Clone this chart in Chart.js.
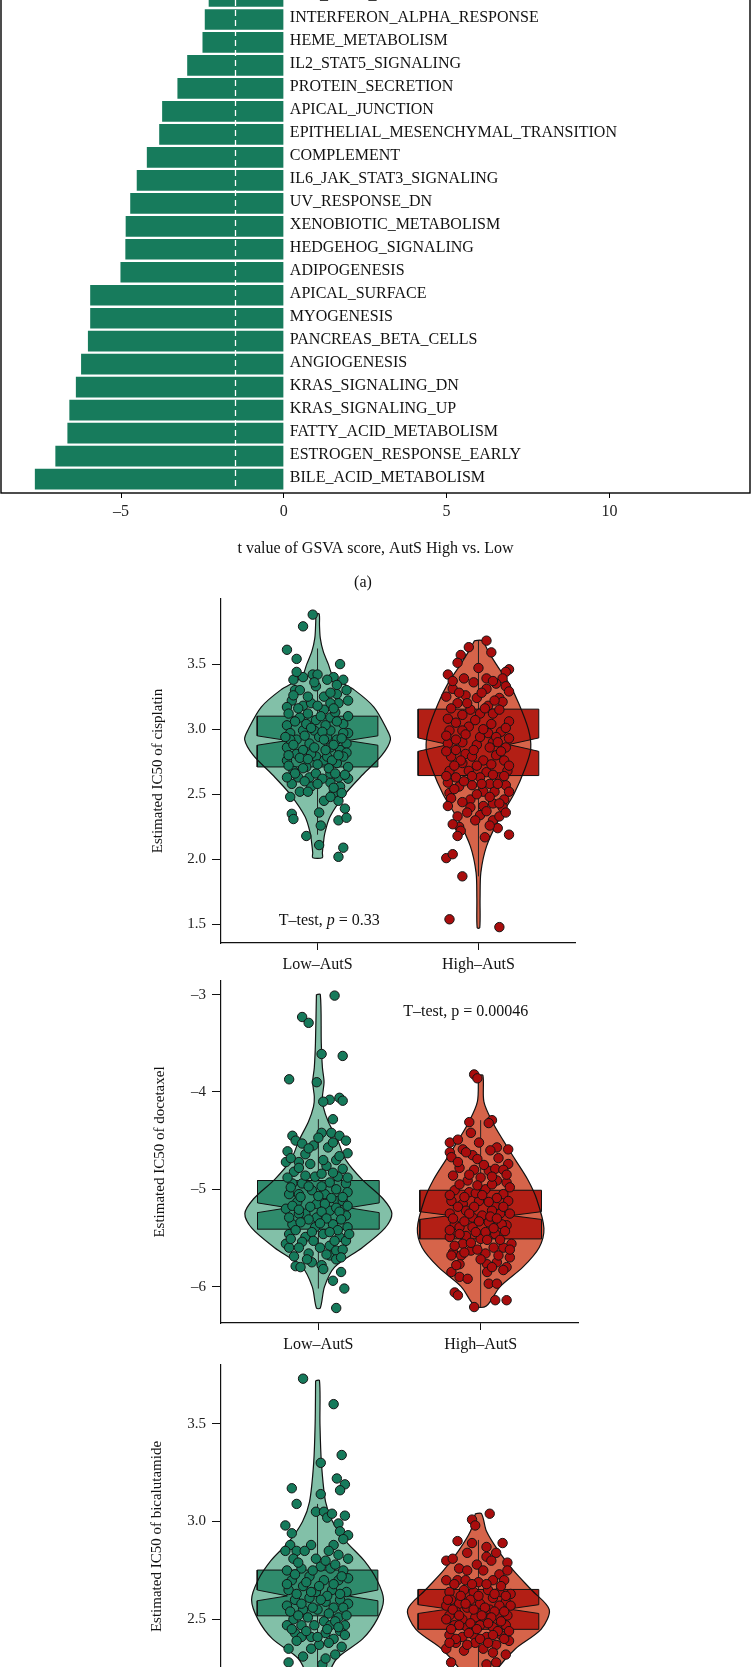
<!DOCTYPE html>
<html>
<head>
<meta charset="utf-8">
<script src="https://cdn.jsdelivr.net/npm/chart.js@4.4.1/dist/chart.umd.min.js"></script>
<style>
  html, body { margin: 0; padding: 0; background: #fff; width: 752px; height: 1667px; overflow: hidden; position: relative; }
  canvas { position: absolute; left: 0; }
  .fig-label { position: absolute; left: 0; width: 726px; text-align: center; font: 16px "Liberation Serif", serif; color: #111; }
</style>
</head>
<body>
<canvas id="gsva" width="752" height="620" style="top:-30px"></canvas>
<div class="fig-label" style="top:573px">(a)</div>
<canvas id="cisplatin"></canvas>
<canvas id="docetaxel"></canvas>
<canvas id="bicalutamide"></canvas>
<script>
// ---------- (a) GSVA t values ----------
const pathwayLabels = [
  'TGF_BETA_SIGNALING', 'INTERFERON_ALPHA_RESPONSE', 'HEME_METABOLISM', 'IL2_STAT5_SIGNALING',
  'PROTEIN_SECRETION', 'APICAL_JUNCTION', 'EPITHELIAL_MESENCHYMAL_TRANSITION', 'COMPLEMENT',
  'IL6_JAK_STAT3_SIGNALING', 'UV_RESPONSE_DN', 'XENOBIOTIC_METABOLISM', 'HEDGEHOG_SIGNALING',
  'ADIPOGENESIS', 'APICAL_SURFACE', 'MYOGENESIS', 'PANCREAS_BETA_CELLS', 'ANGIOGENESIS',
  'KRAS_SIGNALING_DN', 'KRAS_SIGNALING_UP', 'FATTY_ACID_METABOLISM', 'ESTROGEN_RESPONSE_EARLY',
  'BILE_ACID_METABOLISM'
];
const pathwayT = [-2.31, -2.43, -2.50, -2.97, -3.27, -3.74, -3.83, -4.21, -4.52, -4.72, -4.86,
  -4.87, -5.02, -5.95, -5.95, -6.02, -6.23, -6.39, -6.59, -6.65, -7.02, -7.65];
const tTicks = [-5, 0, 5, 10];
const tCutoff = -1.5;

// ---------- drug IC50 panels ----------
const groupLabels = ['Low\u2013AutS', 'High\u2013AutS'];

// box stats: [whisker low, q1, notch low, median, notch high, q3, whisker high]
const boxCisplatin = [[2.19, 2.71, 2.877, 2.913, 2.949, 3.10, 3.62], [1.87, 2.644, 2.83, 2.882, 2.933, 3.154, 3.68]];
const boxDocetaxel = [[-6.02, -5.41, -5.24, -5.19, -5.14, -4.91, -4.28], [-6.21, -5.51, -5.31, -5.27, -5.23, -5.01, -4.29]];
const boxBicalutamide = [[2.18, 2.518, 2.595, 2.62, 2.65, 2.752, 3.09], [2.14, 2.449, 2.53, 2.553, 2.575, 2.653, 2.906]];

// violin density: [y, half width]
const violinCisplatinLow = [[3.885,0.01],[3.8,0.012],[3.7,0.017],[3.6,0.035],[3.5,0.067],[3.4,0.10],[3.3,0.23],[3.17,0.35],[3.0,0.43],[2.92,0.453],[2.8,0.40],[2.65,0.28],[2.5,0.17],[2.33,0.078],[2.2,0.045],[2.12,0.036],[2.05,0.03],[2.013,0.03]];
const violinCisplatinHigh = [[3.68,0.024],[3.6,0.06],[3.5,0.11],[3.35,0.19],[3.2,0.25],[3.0,0.31],[2.85,0.325],[2.7,0.29],[2.5,0.22],[2.3,0.124],[2.1,0.05],[1.9,0.015],[1.7,0.01],[1.475,0.008]];
const violinDocetaxelLow = [[-3.0,0.012],[-3.5,0.018],[-3.75,0.025],[-3.9,0.035],[-4.05,0.025],[-4.15,0.03],[-4.3,0.06],[-4.5,0.12],[-4.7,0.17],[-4.9,0.27],[-5.1,0.40],[-5.25,0.453],[-5.4,0.41],[-5.6,0.27],[-5.8,0.10],[-6.0,0.038],[-6.22,0.012]];
const violinDocetaxelHigh = [[-3.83,0.014],[-4.1,0.02],[-4.3,0.07],[-4.5,0.14],[-4.7,0.215],[-4.9,0.29],[-5.1,0.345],[-5.4,0.39],[-5.6,0.36],[-5.8,0.26],[-6.0,0.12],[-6.2,0.035]];
const violinBicalutamideLow = [[3.72,0.012],[3.5,0.015],[3.3,0.024],[3.1,0.05],[3.0,0.093],[2.9,0.175],[2.8,0.29],[2.7,0.37],[2.6,0.41],[2.5,0.37],[2.4,0.28],[2.3,0.12],[2.2,0.06],[2.1,0.03],[2.05,0.01]];
const violinBicalutamideHigh = [[3.04,0.019],[2.95,0.05],[2.85,0.124],[2.75,0.217],[2.65,0.33],[2.55,0.44],[2.45,0.39],[2.35,0.23],[2.25,0.12],[2.15,0.05],[2.08,0.01]];

// samples: [jitter offset, IC50]
const ptsCisplatinLow = [[-0.03,3.88],[-0.09,3.79],[-0.19,3.61],[-0.13,3.54],[0.14,3.50],[-0.15,3.38],[-0.03,3.42],[0.00,3.42],[0.10,3.40],[0.16,3.38],[0.18,3.30],[-0.14,3.30],[-0.16,3.22],[-0.19,3.17],[-0.09,3.18],[0.04,3.25],[0.13,3.20],[-0.11,3.09],[-0.19,3.03],[-0.17,2.97],[-0.09,2.99],[-0.01,3.07],[0.08,3.09],[0.16,3.04],[0.19,2.97],[-0.19,2.86],[-0.13,2.81],[-0.05,2.89],[0.08,2.86],[0.18,2.89],[-0.19,2.76],[-0.15,2.68],[-0.07,2.71],[0.04,2.76],[0.12,2.74],[0.19,2.71],[-0.16,2.58],[-0.11,2.52],[-0.04,2.56],[0.08,2.59],[0.14,2.56],[0.19,2.62],[-0.17,2.48],[0.04,2.45],[0.13,2.45],[0.17,2.39],[-0.16,2.35],[-0.15,2.31],[0.01,2.36],[0.13,2.30],[0.18,2.32],[-0.07,2.18],[0.02,2.26],[0.01,2.11],[0.16,2.09],[0.13,2.02],[0.10,2.51],[-0.02,2.99],[0.06,2.94],[-0.09,2.84],[-0.01,2.79],[0.08,2.99],[-0.13,2.92],[-0.05,2.63],[-0.01,2.66],[0.08,2.66],[0.14,2.84],[-0.12,2.63],[-0.09,3.40],[0.16,2.97],[0.08,2.48],[-0.11,3.30],[-0.01,3.33],[0.12,3.27],[-0.07,3.04],[0.01,2.94],[0.12,2.92],[-0.04,2.81],[0.06,2.79],[0.13,2.63],[-0.17,2.92],[0.04,3.15],[-0.04,3.20],[0.08,3.20],
  [-0.18,3.12],[-0.06,3.12],[0.02,3.10],[0.11,3.13],[0.19,3.10],[-0.14,3.06],[-0.04,3.01],[0.05,3.03],[0.12,3.06],[-0.20,2.94],[-0.08,2.95],[0.03,2.98],[0.15,2.93],[-0.15,2.88],[-0.02,2.86],[0.10,2.88],[0.18,2.82],[-0.11,2.78],[0.00,2.73],[0.09,2.76],[0.16,2.79],[-0.18,2.72],[-0.09,2.70],[0.07,2.70],[-0.14,2.66],[0.03,2.62],[0.11,2.66],[0.17,2.65],[-0.08,2.60],[0.00,2.58],[0.10,2.55],[-0.19,2.63],[-0.06,2.52],[0.15,2.51],[-0.12,3.16],[0.00,3.18],[0.10,3.16],[-0.06,3.25],[0.08,3.28],[-0.15,3.26],[0.19,3.22],[-0.02,3.36],[0.06,3.38],[-0.13,3.44],[0.12,3.34],[0.05,2.84],[-0.06,2.77],[0.13,2.80],[-0.18,2.80],[0.04,2.92]];
const ptsCisplatinHigh = [[0.05,3.68],[0.08,3.59],[-0.06,3.63],[-0.11,3.57],[-0.13,3.51],[0.00,3.47],[0.19,3.46],[0.17,3.44],[-0.19,3.42],[-0.09,3.39],[0.05,3.39],[0.15,3.39],[0.17,3.33],[-0.16,3.31],[0.05,3.31],[0.11,3.35],[-0.20,3.25],[-0.08,3.26],[-0.01,3.24],[0.13,3.24],[-0.13,3.20],[0.06,3.18],[0.15,3.21],[-0.19,3.08],[-0.10,3.11],[0.01,3.12],[0.09,3.12],[0.19,3.06],[-0.18,2.99],[-0.06,3.02],[0.06,2.97],[0.14,2.98],[-0.19,2.89],[-0.10,2.90],[-0.01,2.88],[0.09,2.90],[0.17,2.86],[-0.17,2.79],[-0.08,2.81],[0.03,2.76],[0.11,2.80],[0.16,2.76],[-0.18,2.68],[-0.06,2.68],[0.05,2.67],[0.18,2.68],[-0.19,2.59],[-0.12,2.56],[-0.04,2.57],[0.07,2.58],[0.17,2.57],[-0.18,2.51],[0.03,2.52],[0.10,2.52],[-0.17,2.47],[-0.05,2.46],[0.09,2.43],[0.16,2.46],[-0.05,2.40],[0.03,2.41],[0.15,2.40],[-0.13,2.33],[0.01,2.34],[0.09,2.30],[0.13,2.33],[-0.12,2.25],[-0.11,2.22],[-0.13,2.18],[0.04,2.17],[0.12,2.24],[0.19,2.19],[-0.20,2.01],[-0.16,2.04],[-0.10,1.87],[-0.18,1.54],[0.13,1.48],[-0.10,2.99],[0.01,2.94],[0.11,2.94],[-0.14,2.84],[-0.04,2.79],[0.07,2.86],[-0.10,2.74],[0.13,2.63],[0.01,2.63],[-0.14,2.63],
  [-0.16,3.37],[-0.03,3.36],[0.09,3.37],[-0.12,3.28],[0.02,3.28],[0.19,3.29],[-0.17,3.16],[-0.05,3.15],[0.04,3.16],[0.13,3.15],[-0.14,3.05],[-0.02,3.07],[0.08,3.04],[0.17,3.01],[-0.20,2.95],[-0.08,2.96],[0.03,3.00],[0.12,2.90],[0.19,2.93],[-0.14,2.92],[-0.03,2.84],[0.14,2.83],[-0.20,2.83],[-0.11,2.76],[-0.01,2.72],[0.08,2.73],[0.19,2.72],[-0.15,2.72],[-0.04,2.64],[0.09,2.65],[0.16,2.64],[-0.20,2.64],[-0.09,2.60],[0.02,2.58],[0.12,2.58],[-0.15,2.54],[-0.01,2.50],[0.07,2.48],[0.19,2.52],[-0.10,2.44],[0.13,2.43],[-0.19,2.41],[0.05,2.37],[-0.07,2.36],[0.17,2.36],[-0.02,2.30],[0.07,2.26],[-0.16,2.27],[0.10,3.22],[-0.07,3.20]];
const ptsDocetaxelLow = [[0.10,-3.01],[-0.10,-3.23],[-0.06,-3.29],[0.02,-3.61],[0.15,-3.63],[-0.18,-3.87],[-0.01,-3.90],[0.07,-4.08],[0.03,-4.10],[0.13,-4.06],[0.15,-4.09],[0.09,-4.28],[0.02,-4.42],[0.08,-4.42],[-0.16,-4.45],[0.13,-4.45],[0.17,-4.50],[-0.14,-4.50],[-0.10,-4.53],[-0.03,-4.55],[0.06,-4.57],[-0.19,-4.61],[0.18,-4.63],[-0.20,-4.72],[-0.08,-4.64],[-0.12,-4.72],[0.05,-4.76],[0.15,-4.79],[-0.15,-4.82],[-0.02,-4.87],[0.12,-4.87],[-0.16,-4.94],[-0.10,-4.94],[0.07,-4.93],[0.17,-4.94],[-0.18,-5.05],[-0.04,-5.01],[0.04,-5.05],[0.18,-5.03],[-0.13,-5.13],[-0.01,-5.15],[0.12,-5.12],[-0.20,-5.20],[-0.08,-5.25],[0.07,-5.22],[0.17,-5.27],[-0.16,-5.36],[-0.02,-5.39],[0.09,-5.36],[0.18,-5.39],[-0.18,-5.46],[-0.08,-5.49],[0.03,-5.46],[0.13,-5.49],[-0.20,-5.56],[-0.10,-5.54],[0.07,-5.58],[0.17,-5.53],[-0.18,-5.60],[-0.15,-5.69],[-0.06,-5.66],[0.07,-5.68],[0.11,-5.63],[-0.14,-5.79],[-0.11,-5.80],[-0.04,-5.75],[0.02,-5.78],[0.03,-5.82],[0.11,-5.72],[0.14,-5.85],[0.09,-5.94],[0.16,-6.02],[0.11,-6.22],[-0.12,-5.05],[0.11,-5.19],[-0.01,-5.29],[-0.12,-5.25],[0.15,-5.12],[0.02,-4.84],[-0.05,-4.74],[0.11,-4.70],
  [-0.17,-4.98],[-0.06,-4.97],[0.02,-4.97],[0.11,-5.00],[-0.11,-5.08],[0.00,-5.07],[0.08,-5.09],[0.15,-5.08],[-0.16,-5.17],[-0.05,-5.18],[0.04,-5.15],[0.18,-5.17],[-0.12,-5.21],[0.02,-5.23],[0.13,-5.23],[-0.18,-5.29],[-0.06,-5.31],[0.05,-5.30],[0.14,-5.31],[-0.11,-5.34],[0.01,-5.35],[0.12,-5.42],[-0.14,-5.42],[-0.04,-5.44],[0.07,-5.44],[0.19,-5.46],[-0.17,-5.51],[-0.03,-5.53],[0.10,-5.53],[-0.12,-5.60],[0.01,-5.60],[0.15,-5.62],[-0.08,-4.86],[0.09,-4.83],[-0.19,-4.88],[0.18,-4.88],[-0.12,-4.78],[0.03,-4.70],[0.13,-4.66],[-0.06,-4.58],[0.09,-4.52],[-0.17,-4.68],[0.00,-4.47],[0.05,-5.67],[-0.07,-5.72],[0.14,-5.70]];
const ptsDocetaxelHigh = [[-0.04,-3.82],[-0.02,-3.86],[0.07,-4.29],[0.05,-4.32],[-0.07,-4.31],[-0.06,-4.42],[-0.19,-4.52],[-0.14,-4.49],[-0.01,-4.52],[0.10,-4.57],[0.17,-4.59],[-0.19,-4.62],[-0.11,-4.59],[-0.05,-4.65],[-0.02,-4.69],[-0.18,-4.67],[0.17,-4.74],[-0.13,-4.78],[-0.04,-4.80],[0.05,-4.81],[0.09,-4.79],[0.14,-4.80],[-0.17,-4.86],[-0.08,-4.91],[0.00,-4.88],[0.10,-4.91],[0.16,-4.93],[-0.16,-5.01],[-0.07,-5.03],[0.03,-5.00],[0.14,-5.05],[-0.18,-5.12],[-0.11,-5.15],[-0.01,-5.12],[0.09,-5.17],[0.17,-5.12],[-0.19,-5.25],[-0.09,-5.22],[0.01,-5.27],[0.12,-5.25],[-0.16,-5.36],[-0.05,-5.39],[0.05,-5.34],[0.16,-5.37],[-0.19,-5.49],[-0.09,-5.48],[0.00,-5.51],[0.09,-5.46],[0.19,-5.56],[-0.17,-5.65],[-0.06,-5.63],[0.03,-5.66],[0.14,-5.60],[-0.18,-5.68],[-0.12,-5.68],[0.18,-5.70],[-0.13,-5.77],[0.04,-5.77],[0.10,-5.75],[0.16,-5.80],[0.14,-5.83],[-0.18,-5.85],[-0.13,-5.90],[-0.08,-5.92],[0.04,-5.85],[0.05,-5.97],[0.10,-5.97],[-0.16,-6.06],[-0.14,-6.09],[-0.04,-6.21],[0.09,-6.14],[0.16,-6.14],[-0.03,-5.04],[0.07,-5.22],[-0.05,-5.29],[-0.13,-5.39],[0.13,-5.36],[0.03,-5.44],[-0.11,-5.56],
  [-0.13,-4.95],[-0.02,-4.96],[0.07,-4.95],[0.18,-4.98],[-0.19,-5.06],[-0.10,-5.08],[0.01,-5.06],[0.10,-5.09],[-0.14,-5.18],[-0.04,-5.18],[0.05,-5.13],[0.14,-5.18],[-0.07,-5.25],[0.06,-5.28],[0.18,-5.25],[-0.17,-5.30],[-0.01,-5.33],[0.10,-5.30],[-0.10,-5.33],[-0.19,-5.42],[-0.03,-5.44],[0.08,-5.40],[0.15,-5.43],[-0.13,-5.46],[0.04,-5.52],[0.12,-5.52],[-0.06,-5.55],[-0.16,-5.58],[0.08,-5.60],[0.18,-5.62],[-0.02,-5.62],[-0.10,-5.65],[0.11,-5.68],[-0.07,-4.85],[0.07,-4.87],[0.16,-4.85],[-0.14,-4.72],[0.02,-4.75],[0.11,-4.68],[-0.09,-4.62],[0.06,-4.60],[0.00,-5.72],[0.07,-5.80],[-0.15,-5.78]];
const ptsBicalutamideLow = [[-0.09,3.73],[0.10,3.60],[0.15,3.34],[0.02,3.30],[0.12,3.22],[0.17,3.19],[-0.16,3.17],[0.14,3.16],[0.02,3.14],[-0.13,3.09],[-0.01,3.05],[0.04,3.05],[0.06,3.02],[0.09,3.04],[0.17,3.03],[-0.20,2.98],[0.13,2.99],[-0.16,2.94],[0.14,2.95],[0.19,2.93],[-0.17,2.88],[-0.04,2.88],[0.10,2.88],[0.16,2.91],[-0.20,2.85],[-0.13,2.85],[-0.08,2.85],[0.07,2.85],[0.13,2.83],[0.19,2.81],[-0.15,2.81],[-0.01,2.81],[0.02,2.77],[-0.19,2.75],[-0.10,2.76],[0.08,2.76],[0.16,2.75],[-0.16,2.70],[-0.05,2.72],[0.04,2.70],[0.13,2.70],[0.19,2.71],[-0.18,2.65],[-0.09,2.67],[-0.01,2.64],[0.09,2.65],[0.18,2.64],[-0.14,2.60],[-0.05,2.61],[0.05,2.59],[0.14,2.60],[-0.19,2.57],[-0.09,2.55],[0.00,2.55],[0.10,2.56],[0.19,2.58],[-0.15,2.50],[-0.06,2.51],[0.04,2.49],[0.13,2.51],[-0.19,2.47],[-0.10,2.47],[0.08,2.47],[0.17,2.47],[-0.14,2.43],[-0.04,2.41],[0.05,2.43],[0.14,2.44],[-0.10,2.41],[0.10,2.40],[0.01,2.37],[-0.18,2.35],[0.11,2.32],[-0.18,2.28],[0.03,2.27],[-0.09,2.18],[0.08,2.09],[-0.05,2.00],
  [-0.12,2.79],[0.05,2.80],[0.11,2.78],[-0.03,2.75],[-0.14,2.73],[0.15,2.72],[-0.07,2.69],[0.01,2.67],[0.10,2.68],[-0.19,2.68],[-0.13,2.63],[-0.04,2.64],[0.06,2.62],[0.14,2.63],[-0.10,2.58],[0.02,2.60],[0.16,2.56],[-0.17,2.54],[-0.03,2.56],[0.07,2.53],[-0.12,2.52],[0.11,2.49],[0.18,2.52],[-0.02,2.47],[-0.16,2.45],[0.06,2.45],[0.13,2.46],[-0.07,2.44],[0.00,2.41],[0.17,2.42],[-0.13,2.39],[0.07,2.38],[-0.04,2.35],[0.15,2.36],[-0.09,2.31],[0.05,2.30]];
const ptsBicalutamideHigh = [[0.07,3.04],[-0.04,3.01],[-0.02,2.98],[-0.13,2.90],[-0.04,2.89],[0.15,2.89],[-0.07,2.84],[0.05,2.87],[0.11,2.84],[0.05,2.82],[-0.20,2.80],[-0.16,2.81],[-0.01,2.78],[0.08,2.80],[0.18,2.79],[-0.12,2.76],[-0.07,2.75],[0.03,2.75],[0.13,2.73],[0.18,2.75],[-0.20,2.70],[-0.13,2.70],[-0.08,2.70],[0.00,2.69],[0.09,2.70],[0.16,2.70],[-0.18,2.64],[-0.09,2.65],[-0.03,2.64],[0.06,2.65],[0.13,2.64],[0.20,2.63],[-0.17,2.60],[-0.12,2.58],[-0.05,2.60],[0.01,2.58],[0.09,2.61],[0.17,2.59],[-0.20,2.57],[-0.14,2.54],[-0.07,2.56],[0.00,2.53],[0.07,2.55],[0.20,2.57],[-0.18,2.52],[-0.10,2.50],[-0.02,2.51],[0.04,2.50],[0.12,2.52],[0.18,2.52],[-0.15,2.47],[-0.07,2.46],[0.01,2.47],[0.09,2.46],[0.17,2.47],[-0.18,2.42],[-0.10,2.41],[-0.03,2.42],[0.05,2.41],[0.14,2.42],[-0.14,2.38],[-0.02,2.38],[0.11,2.37],[0.19,2.39],[-0.20,2.35],[-0.09,2.34],[0.03,2.35],[0.09,2.33],[0.17,2.32],[-0.17,2.28],[0.05,2.27],[0.11,2.28],[-0.07,2.19],[0.07,2.12],
  [-0.15,2.68],[-0.04,2.68],[0.05,2.68],[0.14,2.67],[-0.11,2.62],[0.00,2.62],[0.10,2.63],[0.17,2.62],[-0.19,2.60],[-0.08,2.58],[0.04,2.56],[0.13,2.57],[-0.16,2.55],[-0.03,2.55],[0.10,2.54],[0.16,2.54],[-0.12,2.52],[0.02,2.52],[0.08,2.51],[-0.20,2.50],[-0.05,2.48],[0.06,2.48],[0.14,2.49],[-0.12,2.47],[-0.01,2.45],[0.12,2.44],[-0.17,2.45],[-0.06,2.43],[0.09,2.42],[0.19,2.44],[-0.14,2.40],[0.01,2.40],[0.16,2.40],[-0.07,2.37],[0.06,2.38],[-0.18,2.38]];

const yTicksCisplatin = [1.5, 2.0, 2.5, 3.0, 3.5];
const yTicksDocetaxel = [-6, -5, -4, -3];
const yTicksBicalutamide = [2.5, 3.0, 3.5];

// ---------- shared style ----------
const SERIF = '"Liberation Serif", "DejaVu Serif", serif';
Chart.defaults.font.family = SERIF;
Chart.defaults.color = '#111';
const dash = v => String(v).replace('-', '\u2013');

const LOW = { violin: '#82c0a8', box: '#2f8b6c', point: '#167a5b' };
const HIGH = { violin: '#d6644a', box: '#b31f15', point: '#a90d0d' };
const BOX_HALF = 0.375;
const NOTCH_IN = 0.1875;

// row axis range (row 0 is cut by the top edge of the figure)
const ROW_MIN = -0.283;
const ROW_MAX = 21.606;

// ---------- chart (a) ----------
const gsvaDecor = {
  id: 'gsvaDecor',
  afterDatasetsDraw(chart) {
    const { ctx, chartArea: a, scales: { x, y } } = chart;
    ctx.save();
    const xc = Math.round(x.getPixelForValue(tCutoff)) + 0.5;
    ctx.strokeStyle = '#fff';
    ctx.lineWidth = 1.3;
    ctx.setLineDash([6, 4]);
    ctx.beginPath();
    ctx.moveTo(xc, a.top);
    ctx.lineTo(xc, a.bottom);
    ctx.stroke();
    ctx.setLineDash([]);

    ctx.fillStyle = '#111';
    ctx.font = '16px ' + SERIF;
    ctx.textBaseline = 'middle';
    const x0 = x.getPixelForValue(0) + 6;
    pathwayLabels.forEach((l, i) => ctx.fillText(l, x0, y.getPixelForValue(i) - 1.5));

    ctx.strokeStyle = '#000';
    ctx.lineWidth = 1.4;
    ctx.strokeRect(a.left, a.top, a.right - a.left, a.bottom - a.top);
    ctx.restore();
  }
};

new Chart(document.getElementById('gsva'), {
  type: 'bar',
  data: {
    datasets: [{
      data: pathwayT.map((t, i) => ({ x: t, y: i })),
      backgroundColor: '#177b5c',
      barPercentage: 0.9,
      categoryPercentage: 1
    }]
  },
  options: {
    indexAxis: 'y',
    responsive: false,
    animation: false,
    layout: { padding: { top: 20, left: 1, right: 2, bottom: 0 } },
    plugins: { legend: { display: false }, tooltip: { enabled: false } },
    scales: {
      y: {
        type: 'linear', display: false, reverse: true, offset: false, bounds: 'data',
        min: ROW_MIN, max: ROW_MAX,
        afterBuildTicks: s => { s.min = ROW_MIN; s.max = ROW_MAX; }
      },
      x: {
        type: 'linear', min: -8.69, max: 14.32,
        afterBuildTicks: s => { s.ticks = tTicks.map(v => ({ value: v })); },
        afterFit: s => { s.height = 97; },
        grid: { drawOnChartArea: false, drawTicks: true, tickLength: 5, color: '#000' },
        border: { display: false },
        ticks: { font: { size: 16 }, color: '#222', padding: 4, callback: v => dash(v) },
        title: {
          display: true, text: 't value of GSVA score, AutS High vs. Low',
          font: { size: 16 }, color: '#111', padding: { top: 0, bottom: 32 }
        }
      }
    }
  },
  plugins: [gsvaDecor]
});

// ---------- violin panels ----------
const notePlugin = {
  id: 'note',
  afterDatasetsDraw(chart, args, opts) {
    if (!opts.parts) return;
    const { ctx, scales: { x, y } } = chart;
    ctx.save();
    ctx.fillStyle = '#111';
    ctx.textBaseline = 'middle';
    const fontOf = p => (p.italic ? 'italic ' : '') + '16px ' + SERIF;
    const widths = opts.parts.map(p => { ctx.font = fontOf(p); return ctx.measureText(p.text).width; });
    let px = x.getPixelForValue(opts.x) - widths.reduce((a, b) => a + b, 0) / 2;
    const py = y.getPixelForValue(opts.y);
    opts.parts.forEach((p, i) => { ctx.font = fontOf(p); ctx.fillText(p.text, px, py); px += widths[i]; });
    ctx.restore();
  }
};

function violinShape(c, dens) {
  const left = dens.map(([y, w]) => ({ x: c - w, y }));
  const right = dens.slice().reverse().map(([y, w]) => ({ x: c + w, y }));
  const pts = left.concat(right);
  pts.push(pts[0]);
  return pts;
}

function boxShape(c, b) {
  const [, q1, nl, med, nu, q3] = b;
  return [
    { x: c - BOX_HALF, y: q3 }, { x: c - BOX_HALF, y: nu }, { x: c - NOTCH_IN, y: med },
    { x: c - BOX_HALF, y: nl }, { x: c - BOX_HALF, y: q1 }, { x: c + BOX_HALF, y: q1 },
    { x: c + BOX_HALF, y: nl }, { x: c + NOTCH_IN, y: med }, { x: c + BOX_HALF, y: nu },
    { x: c + BOX_HALF, y: q3 }, { x: c - BOX_HALF, y: q3 }
  ];
}

function groupDatasets(c, dens, box, pts, col) {
  const line = { showLine: true, pointRadius: 0, pointHoverRadius: 0 };
  return [
    { ...line, data: violinShape(c, dens), fill: 'shape', backgroundColor: col.violin, borderWidth: 0, tension: 0.3, order: 5 },
    { ...line, data: [{ x: c, y: box[0] }, { x: c, y: box[6] }], borderColor: '#222', borderWidth: 1, order: 4 },
    { ...line, data: boxShape(c, box), fill: 'shape', backgroundColor: col.box, borderColor: '#111', borderWidth: 1, tension: 0, order: 3 },
    { ...line, data: [{ x: c - NOTCH_IN, y: box[3] }, { x: c + NOTCH_IN, y: box[3] }], borderColor: '#111', borderWidth: 1, order: 3 },
    { ...line, data: violinShape(c, dens), fill: false, borderColor: '#111', borderWidth: 1.2, tension: 0.3, order: 2 },
    {
      data: pts.map(([dx, y]) => ({ x: c + dx, y })),
      pointRadius: 4.7, pointHoverRadius: 4.7, pointBackgroundColor: col.point,
      pointBorderColor: '#151515', pointBorderWidth: 1, order: 1
    }
  ];
}

function violinChart(id, area, cfg) {
  const canvas = document.getElementById(id);
  canvas.width = 752;
  canvas.height = area.bottom - area.top + 80;
  canvas.style.top = (area.top - 20) + 'px';

  new Chart(canvas, {
    type: 'scatter',
    data: { datasets: cfg.datasets },
    options: {
      responsive: false,
      animation: false,
      layout: { padding: { top: 20, left: 0, right: 752 - area.right, bottom: 10 } },
      plugins: { legend: { display: false }, tooltip: { enabled: false }, note: cfg.note || {} },
      scales: {
        x: {
          type: 'linear', min: 0.4, max: 2.6,
          afterBuildTicks: s => { s.ticks = [{ value: 1 }, { value: 2 }]; },
          afterFit: s => { s.height = 50; },
          grid: { drawOnChartArea: false, tickLength: 7, color: '#111' },
          border: { color: '#111', width: 1.2 },
          ticks: { font: { size: 16 }, color: '#111', padding: 5, callback: v => groupLabels[Math.round(v) - 1] }
        },
        y: {
          type: 'linear', min: cfg.yMin, max: cfg.yMax,
          afterBuildTicks: s => { s.ticks = cfg.yTicks.map(v => ({ value: v })); },
          afterFit: s => { s.width = area.left; },
          grid: { drawOnChartArea: false, tickLength: 9, color: '#111' },
          border: { color: '#111', width: 1.2 },
          ticks: { font: { size: 15 }, color: '#222', padding: 6, callback: cfg.yFormat },
          title: { display: true, text: cfg.title, font: { size: 15 }, color: '#111', padding: { top: cfg.titleX - 9, bottom: 0 } }
        }
      }
    },
    plugins: [notePlugin]
  });
}

violinChart('cisplatin', { top: 599, bottom: 943, left: 221, right: 575 }, {
  yMin: 1.358, yMax: 4.0, yTicks: yTicksCisplatin, yFormat: v => v.toFixed(1),
  title: 'Estimated IC50 of cisplatin', titleX: 158,
  note: { x: 1.073, y: 1.531, parts: [{ text: 'T\u2013test, ' }, { text: 'p', italic: true }, { text: ' = 0.33' }] },
  datasets: [
    ...groupDatasets(1, violinCisplatinLow, boxCisplatin[0], ptsCisplatinLow, LOW),
    ...groupDatasets(2, violinCisplatinHigh, boxCisplatin[1], ptsCisplatinHigh, HIGH)
  ]
});

violinChart('docetaxel', { top: 981, bottom: 1323, left: 221, right: 578 }, {
  yMin: -6.374, yMax: -2.86, yTicks: yTicksDocetaxel, yFormat: v => dash(v),
  title: 'Estimated IC50 of docetaxel', titleX: 160,
  note: { x: 1.908, y: -3.179, parts: [{ text: 'T\u2013test, p = 0.00046' }] },
  datasets: [
    ...groupDatasets(1, violinDocetaxelLow, boxDocetaxel[0], ptsDocetaxelLow, LOW),
    ...groupDatasets(2, violinDocetaxelHigh, boxDocetaxel[1], ptsDocetaxelHigh, HIGH)
  ]
});

violinChart('bicalutamide', { top: 1365, bottom: 1708, left: 221, right: 575 }, {
  yMin: 2.047, yMax: 3.80, yTicks: yTicksBicalutamide, yFormat: v => v.toFixed(1),
  title: 'Estimated IC50 of bicalutamide', titleX: 157,
  datasets: [
    ...groupDatasets(1, violinBicalutamideLow, boxBicalutamide[0], ptsBicalutamideLow, LOW),
    ...groupDatasets(2, violinBicalutamideHigh, boxBicalutamide[1], ptsBicalutamideHigh, HIGH)
  ]
});
</script>
</body>
</html>
